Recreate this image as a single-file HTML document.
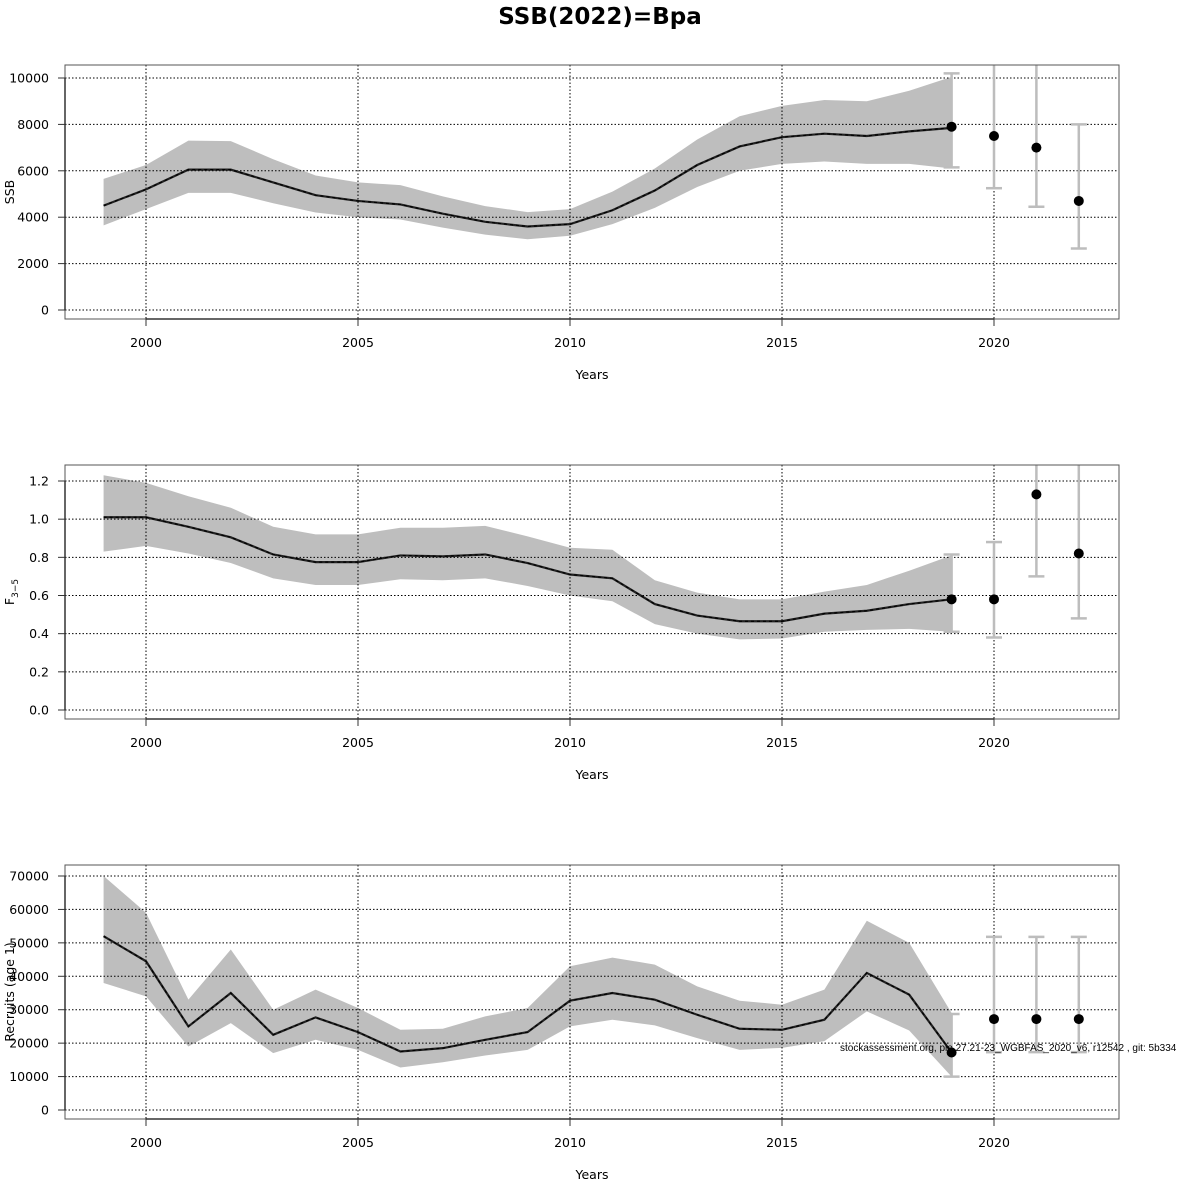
<!DOCTYPE html>
<html><head><meta charset="utf-8"><style>
body{margin:0;background:#fff;width:1200px;height:1200px;overflow:hidden}
svg{display:block;font-family:"DejaVu Sans","Liberation Sans",sans-serif}
</style></head><body>
<svg id="chart" width="1200" height="1200" viewBox="0 0 1200 1200">
<text x="600" y="24" text-anchor="middle" font-size="23" font-weight="bold">SSB(2022)=Bpa</text>
</svg>
<script>
const years=[1999,2000,2001,2002,2003,2004,2005,2006,2007,2008,2009,2010,2011,2012,2013,2014,2015,2016,2017,2018,2019];
const xTicks=[2000,2005,2010,2015,2020];
const fcYears=[2019,2020,2021,2022];

const ssbMid=[4500,5200,6050,6050,5500,4950,4700,4550,4150,3800,3600,3700,4300,5150,6250,7050,7450,7600,7500,7700,7850];
const ssbLo=[3650,4350,5050,5050,4600,4200,4000,3900,3550,3250,3050,3200,3700,4400,5300,6000,6300,6400,6300,6300,6100];
const ssbHi=[5650,6250,7300,7280,6500,5800,5500,5380,4900,4480,4220,4350,5100,6100,7350,8350,8800,9050,9000,9450,10050];
const ssbFc=[7900,7500,7000,4700];
const ssbFcLo=[6150,5250,4450,2650];
const ssbFcHi=[10200,11500,11500,8000];
const ssbTicks=[0,2000,4000,6000,8000,10000];

const fMid=[1.01,1.01,0.96,0.905,0.815,0.775,0.775,0.81,0.805,0.815,0.77,0.71,0.69,0.555,0.495,0.465,0.465,0.505,0.52,0.555,0.58];
const fLo=[0.83,0.86,0.82,0.77,0.69,0.655,0.655,0.685,0.68,0.69,0.65,0.60,0.57,0.45,0.40,0.37,0.375,0.41,0.42,0.425,0.41];
const fHi=[1.23,1.19,1.12,1.06,0.96,0.92,0.92,0.955,0.955,0.965,0.91,0.85,0.84,0.68,0.615,0.58,0.58,0.62,0.655,0.73,0.81];
const fFc=[0.58,0.58,1.13,0.82];
const fFcLo=[0.41,0.38,0.70,0.48];
const fFcHi=[0.815,0.88,1.4,1.4];
const fTicks=[0.0,0.2,0.4,0.6,0.8,1.0,1.2];

const rMid=[52000,44500,25000,35000,22500,27700,23300,17500,18500,21000,23300,32700,35000,33000,28500,24300,24000,27000,41000,34500,17200];
const rLo=[38000,34000,19000,26000,17000,21000,18000,12700,14300,16300,18000,25000,27000,25300,21500,18000,18600,20600,29500,23800,10000];
const rHi=[70000,59000,33000,48000,30000,36000,30500,24000,24300,28000,30500,43000,45600,43500,37000,32700,31500,36000,56600,50000,29000];
const rFc=[17200,27200,27200,27200];
const rFcLo=[10000,17300,17300,17300];
const rFcHi=[28700,51800,51800,51800];
const rTicks=[0,10000,20000,30000,40000,50000,60000,70000];

const NS='http://www.w3.org/2000/svg';
const svg=document.getElementById('chart');
const L=65,R=1119;
const xs=y=>146+(y-2000)*42.4;
function mk(tag,attrs,parent){const e=document.createElementNS(NS,tag);for(const k in attrs)e.setAttribute(k,attrs[k]);(parent||svg).appendChild(e);return e;}

function panel(pid,top,v0y,vTopY,vTop,ticks,fmt,mid,lo,hi,fc,fcLo,fcHi,ylabel){
  const bot=top+254;
  const ys=v=>v0y-(v0y-vTopY)*v/vTop;
  const g=mk('g',{});
  
  
  const clipId='clip-'+pid;
  const cp=mk('clipPath',{id:clipId},g);mk('rect',{x:L,y:top,width:R-L,height:bot-top},cp);
  // band
  let pts=years.map((y,i)=>xs(y)+','+ys(hi[i])).concat(years.slice().reverse().map((y,j)=>xs(y)+','+ys(lo[years.length-1-j])));
  const band=mk('polygon',{points:pts.join(' '),fill:'#bebebe',stroke:'none','clip-path':'url(#'+clipId+')'},g);
  
  
  // grid
  ticks.forEach(t=>{mk('line',{x1:L,x2:R,y1:ys(t),y2:ys(t),stroke:'#000','stroke-width':1,'stroke-dasharray':'1.5,2'},g);});
  xTicks.forEach(t=>{mk('line',{x1:xs(t),x2:xs(t),y1:top,y2:bot,stroke:'#000','stroke-width':1,'stroke-dasharray':'1.5,2'},g);});
  // line
  const ln=mk('polyline',{points:years.map((y,i)=>xs(y)+','+ys(mid[i])).join(' '),fill:'none',stroke:'#222','stroke-width':2.2},g);
  
  
  mk('polyline',{points:years.map((y,i)=>xs(y)+','+ys(mid[i])).join(' '),fill:'none',stroke:'#000','stroke-width':1.2,'stroke-dasharray':'3,3'},g);
  // forecast
  fcYears.forEach((y,i)=>{
    const x=xs(y);
    const eb=mk('g',{'clip-path':'url(#'+clipId+')'},g);
    
    
    mk('line',{x1:x,x2:x,y1:ys(fcLo[i]),y2:ys(fcHi[i]),stroke:'#bdbdbd','stroke-width':2.5},eb);
    mk('line',{x1:x-8,x2:x+8,y1:ys(fcLo[i]),y2:ys(fcLo[i]),stroke:'#bdbdbd','stroke-width':2.5},eb);
    mk('line',{x1:x-8,x2:x+8,y1:ys(fcHi[i]),y2:ys(fcHi[i]),stroke:'#bdbdbd','stroke-width':2.5},eb);
    const c=mk('circle',{cx:x,cy:ys(fc[i]),r:5,fill:'#000'},g);
    
    
  });
  // box & axes
  mk('rect',{x:L,y:top,width:R-L,height:bot-top,fill:'none',stroke:'#555','stroke-width':1},g);
  mk('line',{x1:L,x2:L,y1:ys(ticks[0]),y2:ys(ticks[ticks.length-1]),stroke:'#333','stroke-width':1.5},g);
  mk('line',{x1:xs(xTicks[0]),x2:xs(xTicks[xTicks.length-1]),y1:bot,y2:bot,stroke:'#333','stroke-width':1.5},g);
  ticks.forEach(t=>{
    mk('line',{x1:L-7,x2:L,y1:ys(t),y2:ys(t),stroke:'#333'},g);
    const tx=mk('text',{x:49,y:ys(t)+4.5,'text-anchor':'end','font-size':12.5},g);
    tx.textContent=fmt(t);
    
    
  });
  xTicks.forEach(t=>{
    mk('line',{x1:xs(t),x2:xs(t),y1:bot,y2:bot+7,stroke:'#333'},g);
    const tx=mk('text',{x:xs(t),y:bot+28,'text-anchor':'middle','font-size':12.5},g);
    tx.textContent=t;
    
    
  });
  const xl=mk('text',{x:592,y:bot+60,'text-anchor':'middle','font-size':12.5},g);
  xl.textContent='Years';
  
  
  const yl=mk('text',{x:0,y:0,'text-anchor':'middle','font-size':12.5,transform:'translate(14,'+((top+bot)/2)+') rotate(-90)'},g);
  yl.innerHTML=ylabel;
  
  
}
panel('ssb',65,310,78,10000,ssbTicks,t=>String(t),ssbMid,ssbLo,ssbHi,ssbFc,ssbFcLo,ssbFcHi,'SSB');
panel('fishing-mortality',465,710,481,1.2,fTicks,t=>t.toFixed(1),fMid,fLo,fHi,fFc,fFcLo,fFcHi,'F<tspan font-size="9" dy="4">3\u22125</tspan>');
panel('recruits',865,1110,876,70000,rTicks,t=>String(t),rMid,rLo,rHi,rFc,rFcLo,rFcHi,'Recruits (age 1)');
const ft=mk('text',{x:840,y:1051,'font-size':10,'font-family':'"Liberation Sans",sans-serif'});
ft.textContent='stockassessment.org, ple.27.21-23_WGBFAS_2020_v6, r12542 , git: 5b334';


</script>
</body></html>
